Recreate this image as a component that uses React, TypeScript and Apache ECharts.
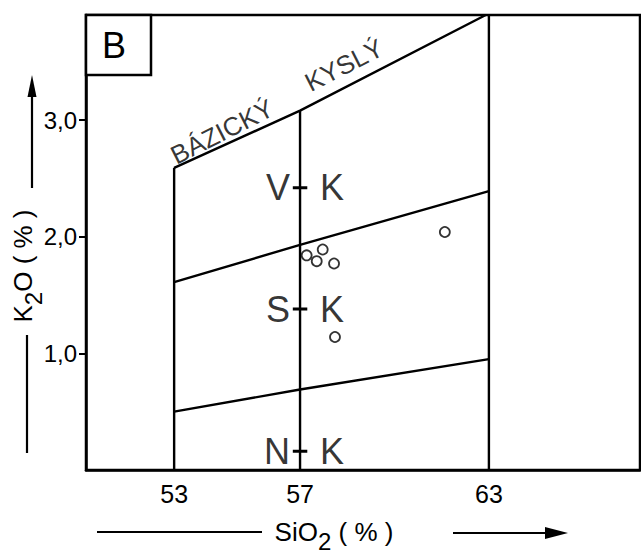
import React, { useEffect, useRef } from 'react';
import * as echarts from 'echarts';

const FONT = '"Liberation Sans", Arial, sans-serif';

// axis ranges and tick labels
const siO2Range = [50.2, 67.8];
const k2oRange = [0, 3.9];
const siO2Ticks = [53, 57, 63];
const k2oTicks = [1, 2, 3];

// field boundary lines (SiO2 %, K2O %)
const upperSiO2 = [53, 57, 62.9];
const upperK2O = [2.59, 3.08, 3.9];
const middleSiO2 = [53, 57, 63];
const middleK2O = [1.61, 1.93, 2.39];
const lowerSiO2 = [53, 57, 63];
const lowerK2O = [0.5, 0.69, 0.95];

// vertical dividers: SiO2 position and K2O at their top end
const dividerSiO2 = [53, 57, 63];
const dividerTopK2O = [2.59, 3.08, 3.9];

// samples
const sampleSiO2 = [57.21, 57.53, 57.72, 58.08, 58.11, 61.6];
const sampleK2O = [1.84, 1.79, 1.89, 1.77, 1.14, 2.04];

// field labels (centred on the 57 % divider)
const fieldSiO2 = 57;
const fieldPrefixes = ['V', 'S', 'N'];
const fieldSuffix = 'K';
const fieldK2O = [2.42, 1.38, 0.16];
const dashHalfWidth = 0.23; // in SiO2 units

// labels along the upper boundary
const boundaryNames = ['BÁZICKÝ', 'KYSLÝ'];
const boundaryNameSiO2 = [54.52, 58.4];
const boundaryNameK2O = [2.9, 3.47];

const zip = (xs: number[], ys: number[]) => xs.map((x, i) => [x, ys[i]]);

const lineStyle = { color: '#000', width: 2.4 };

export default function App() {
  const ref = useRef<HTMLDivElement>(null);

  useEffect(() => {
    if (!ref.current) return;
    const chart = echarts.init(ref.current, null, { renderer: 'svg' });

    const boundarySeries = [
      zip(upperSiO2, upperK2O),
      zip(middleSiO2, middleK2O),
      zip(lowerSiO2, lowerK2O),
    ].map((data, i) => ({
      type: 'line',
      name: 'boundary' + i,
      data,
      symbol: 'none',
      lineStyle,
      z: 3,
    }));

    const dividerSeries = dividerSiO2.map((x, i) => ({
      type: 'line',
      name: 'divider' + i,
      data: [
        [x, 0],
        [x, dividerTopK2O[i]],
      ],
      symbol: 'none',
      lineStyle,
      z: 3,
    }));

    const dashSeries = fieldK2O.map((y, i) => ({
      type: 'line',
      name: 'dash' + i,
      data: [
        [fieldSiO2 - dashHalfWidth, y],
        [fieldSiO2 + dashHalfWidth, y],
      ],
      symbol: 'none',
      lineStyle: { color: '#000', width: 3 },
      z: 4,
    }));

    const fieldData = fieldK2O.map((y) => [fieldSiO2, y]);
    const letterStyle = { color: '#000', fontSize: 36, fontFamily: FONT };

    chart.setOption({
      animation: false,
      backgroundColor: '#fff',
      grid: {
        left: 86,
        right: 1,
        top: 15,
        bottom: 87,
        show: true,
        borderColor: '#000',
        borderWidth: 2.5,
        backgroundColor: 'transparent',
      },
      xAxis: {
        type: 'value',
        min: siO2Range[0],
        max: siO2Range[1],
        splitLine: { show: false },
        axisLine: { show: true, onZero: false, lineStyle: { color: '#000', width: 2.5 } },
        axisTick: { show: false },
        axisLabel: {
          customValues: siO2Ticks,
          color: '#000',
          fontSize: 25,
          fontFamily: FONT,
          margin: 11,
        },
      },
      yAxis: {
        type: 'value',
        min: k2oRange[0],
        max: k2oRange[1],
        splitLine: { show: false },
        axisLine: { show: true, onZero: false, lineStyle: { color: '#000', width: 2.5 } },
        axisTick: {
          show: true,
          customValues: k2oTicks,
          length: 7,
          lineStyle: { color: '#000', width: 2 },
        },
        axisLabel: {
          customValues: k2oTicks,
          formatter: (v: number) => v.toFixed(1).replace('.', ','),
          color: '#000',
          fontSize: 24,
          fontFamily: FONT,
          margin: 9,
        },
      },
      series: [
        ...boundarySeries,
        ...dividerSeries,
        ...dashSeries,
        {
          type: 'scatter',
          name: 'samples',
          data: zip(sampleSiO2, sampleK2O),
          symbol: 'circle',
          symbolSize: 10,
          itemStyle: { color: '#fff', borderColor: '#000', borderWidth: 1.8 },
          z: 5,
        },
        {
          type: 'scatter',
          name: 'fieldPrefix',
          data: fieldData,
          symbolSize: 0,
          silent: true,
          label: {
            show: true,
            position: 'left',
            distance: 10,
            formatter: (p: any) => fieldPrefixes[p.dataIndex],
            ...letterStyle,
          },
        },
        {
          type: 'scatter',
          name: 'fieldSuffix',
          data: fieldData,
          symbolSize: 0,
          silent: true,
          label: {
            show: true,
            position: 'right',
            distance: 20,
            formatter: fieldSuffix,
            ...letterStyle,
          },
        },
        {
          type: 'scatter',
          name: 'boundaryNames',
          data: zip(boundaryNameSiO2, boundaryNameK2O),
          symbolSize: 0,
          silent: true,
          label: {
            show: true,
            position: 'inside',
            rotate: 27,
            formatter: (p: any) => boundaryNames[p.dataIndex],
            color: '#000',
            fontSize: 26,
            fontFamily: FONT,
          },
        },
      ],
      graphic: [
        {
          type: 'rect',
          shape: { x: 86, y: 15, width: 65, height: 60 },
          style: { fill: '#fff', stroke: '#000', lineWidth: 2.5 },
          z: 10,
        },
        {
          type: 'text',
          x: 114,
          y: 45,
          style: {
            text: 'B',
            fill: '#000',
            font: '36px ' + FONT,
            align: 'center',
            verticalAlign: 'middle',
          },
          z: 11,
        },
        // y-axis arrow and title
        {
          type: 'line',
          shape: { x1: 32, y1: 188, x2: 32, y2: 90 },
          style: { stroke: '#000', lineWidth: 2.2 },
        },
        {
          type: 'polygon',
          shape: { points: [[32, 75], [27.5, 97], [36.5, 97]] },
          style: { fill: '#000' },
        },
        {
          type: 'text',
          x: 23,
          y: 266,
          rotation: Math.PI / 2,
          style: {
            text: 'K{s|2}O ( % )',
            fill: '#000',
            font: '26px ' + FONT,
            align: 'center',
            verticalAlign: 'middle',
            rich: { s: { fontSize: 24, fontFamily: FONT, padding: [20, 0, 0, 0] } },
          },
        },
        {
          type: 'line',
          shape: { x1: 27, y1: 335, x2: 27, y2: 453 },
          style: { stroke: '#000', lineWidth: 2.2 },
        },
        // x-axis title with line and arrow
        {
          type: 'line',
          shape: { x1: 97, y1: 532, x2: 262, y2: 532 },
          style: { stroke: '#000', lineWidth: 2.2 },
        },
        {
          type: 'text',
          x: 334,
          y: 532,
          style: {
            text: 'SiO{s|2} ( % )',
            fill: '#000',
            font: '26px ' + FONT,
            align: 'center',
            verticalAlign: 'middle',
            rich: { s: { fontSize: 24, fontFamily: FONT, padding: [18, 0, 0, 0] } },
          },
        },
        {
          type: 'line',
          shape: { x1: 453, y1: 533, x2: 555, y2: 533 },
          style: { stroke: '#000', lineWidth: 2.2 },
        },
        {
          type: 'polygon',
          shape: { points: [[568, 533], [545, 527], [545, 539]] },
          style: { fill: '#000' },
        },
      ],
    });

    return () => chart.dispose();
  }, []);

  return (
    <div
      ref={ref}
      style={{ position: 'fixed', left: 0, top: 0, width: 641, height: 557, background: '#fff' }}
    />
  );
}
